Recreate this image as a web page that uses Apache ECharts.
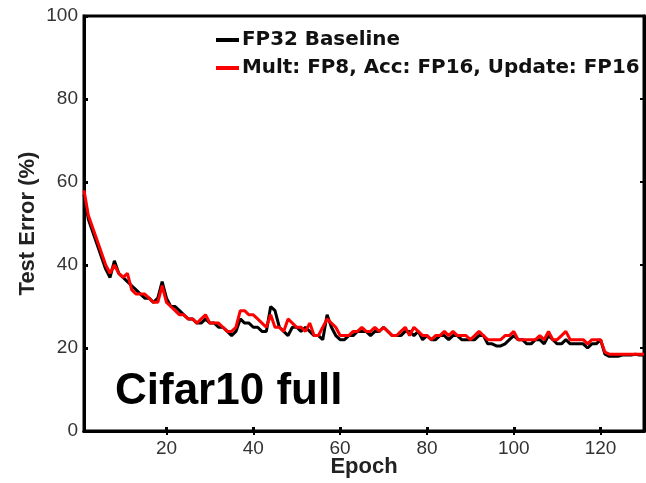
<!DOCTYPE html>
<html><head><meta charset="utf-8">
<script src="https://cdn.jsdelivr.net/npm/echarts@6/dist/echarts.min.js"></script>
<style>html,body{margin:0;padding:0;background:#fff}#c{width:646px;height:483px}</style>
</head><body><div id="c"></div>
<script>
const epochs = Array.from({length:130},(_,i)=>i+1);
const xTicks = [20,40,60,80,100,120];
const yTicks = [0,20,40,60,80,100];
const seriesNames = ["FP32 Baseline","Mult: FP8, Acc: FP16, Update: FP16"];
const fp32 = [57,51,48,45,42,39,37,41,38,37,36,35,34,33,32,32,31,32,36,32,30,30,29,28,27,27,26,26,27,26,26,25,25,24,23,24,27,26,26,25,25,24,24,30,29,25,24,23,25,25,24,25,24,23,23,22,28,25,23,22,22,23,23,24,24,24,23,24,24,25,24,23,23,23,24,24,23,24,22,23,22,22,23,23,22,23,23,22,22,22,22,23,23,21,21,20.5,20.5,21,22,23,22,22,21,21,22,22,21,23,22,21,21,22,21,21,21,21,20,21,21,22,18.5,18,18,18,18.3,18.3,18.3,18.5,18.3,18.3];
const fp8 = [58,52,49,46,43,40,38,40,38,37,38,34,33,33,33,32,31,31,35,31,30,29,28,28,27,27,26,27,28,26,26,26,25,24,24,25,29,29,28,28,27,26,25,28,25,25,24,27,26,25,25,24,26,23,23,25,27,26,25,23,23,23,24,24,25,24,24,25,24,25,24,23,23,24,25,23,25,24,23,23,22,23,23,24,23,24,23,23,23,22,23,24,23,22,22,22,22,23,23,24,22,22,22,22,22,23,22,24,22,22,23,24,22,22,22,22,21,22,22,22,19,18.5,18.5,18.5,18.5,18.5,18.5,18.5,18.5,18.5];

const chart = echarts.init(document.getElementById('c'));
const font = 'Liberation Sans, Arial, sans-serif';
const axisLine = {show:true, lineStyle:{color:'#000', width:3}};
chart.setOption({
  animation:false,
  grid:{left:84,right:2,top:16,bottom:52, containLabel:false, outerBoundsMode:'none', show:true, borderColor:'#000', borderWidth:3, backgroundColor:'transparent'},
  legend:{
    left:211, top:25, orient:'vertical', itemGap:8, itemWidth:23, itemHeight:4,
    icon:'rect', selectedMode:false,
    textStyle:{fontFamily:'DejaVu Sans, sans-serif', fontWeight:'bold', fontSize:19.9, color:'#111', padding:[0,0,0,-2]},
    data:[{name:seriesNames[0]},{name:seriesNames[1]}]
  },
  xAxis:[{
    type:'value', min:1, max:130, position:'bottom',
    name:'Epoch', nameLocation:'middle', nameGap:25, nameMoveOverlap:false,
    nameTextStyle:{fontFamily:font, fontWeight:'bold', fontSize:22, color:'#222'},
    axisLine:axisLine,
    axisTick:{show:true, inside:true, length:4, lineStyle:{color:'#000',width:3}, customValues:xTicks},
    axisLabel:{fontFamily:font, fontSize:19, color:'#333', margin:8, customValues:xTicks},
    splitLine:{show:false}
  },{
    type:'value', min:1, max:130, position:'top',
    axisLine:axisLine,
    axisTick:{show:true, inside:true, length:4, lineStyle:{color:'#000',width:2}, customValues:xTicks},
    axisLabel:{show:false}, splitLine:{show:false}
  }],
  yAxis:[{
    type:'value', min:0, max:100, interval:20, position:'left',
    name:'Test Error (%)', nameLocation:'middle', nameGap:45, nameMoveOverlap:false,
    nameTextStyle:{fontFamily:font, fontWeight:'bold', fontSize:22, color:'#222'},
    axisLine:axisLine,
    axisTick:{show:true, inside:true, length:4, lineStyle:{color:'#000',width:3}},
    axisLabel:{fontFamily:font, fontSize:19, color:'#333', margin:6},
    splitLine:{show:false}
  },{
    type:'value', min:0, max:100, interval:20, position:'right',
    axisLine:axisLine,
    axisTick:{show:true, inside:true, length:4, lineStyle:{color:'#000',width:2}},
    axisLabel:{show:false}, splitLine:{show:false}
  }],
  graphic:[{
    type:'text', left:115, top:370,
    style:{text:'Cifar10 full', fontFamily:font, fontWeight:'bold', fontSize:44, fill:'#000'}
  }],
  series:[{
    name:seriesNames[0], type:'line', showSymbol:false,
    data:epochs.map((e,i)=>[e,fp32[i]]),
    lineStyle:{color:'#000', width:3}, itemStyle:{color:'#000'}, z:2
  },{
    name:seriesNames[1], type:'line', showSymbol:false,
    data:epochs.map((e,i)=>[e,fp8[i]]),
    lineStyle:{color:'#ff0000', width:3}, itemStyle:{color:'#ff0000'}, z:3
  }]
});
</script></body></html>
